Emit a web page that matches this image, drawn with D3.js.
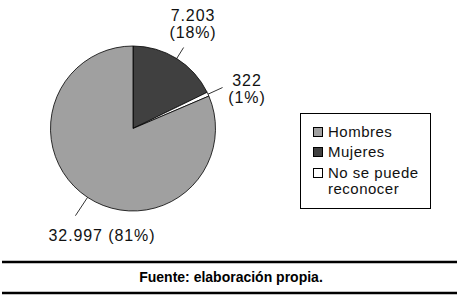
<!DOCTYPE html>
<html>
<head>
<meta charset="utf-8">
<script src="https://cdn.jsdelivr.net/npm/d3@7"></script>
<style>
  body { margin: 0; background: #fff; }
  svg { display: block; font-family: 'Liberation Sans', Arial, sans-serif; }
</style>
</head>
<body>
<div id="chart"></div>
<script>
// Data
const categories = ['Mujeres', 'No se puede reconocer', 'Hombres'];
const values = [7203, 322, 32997];
const labelTexts = [['7.203', '(18%)'], ['322', '(1%)'], ['32.997 (81%)']];
const legendOrder = ['Hombres', 'Mujeres', 'No se puede reconocer'];
const legendLines = [['Hombres'], ['Mujeres'], ['No se puede', 'reconocer']];
const source = 'Fuente: elaboración propia.';

const width = 461, height = 299;
const cx = 133, cy = 128.5, radius = 82.5;

const color = d3.scaleOrdinal()
    .domain(categories)
    .range(['#404040', '#ffffff', '#a0a0a0']);

const svg = d3.select('#chart')
    .append('svg')
        .attr('width', width)
        .attr('height', height);

const pie = d3.pie().sort(null).value(d => d.value);
const data = categories.map((c, i) => ({name: c, value: values[i], label: labelTexts[i]}));
const arcs = pie(data);
const arc = d3.arc().innerRadius(0).outerRadius(radius);

const g = svg.append('g').attr('transform', `translate(${cx},${cy})`);

g.selectAll('path')
    .data(arcs)
    .enter()
    .append('path')
        .attr('d', arc)
        .attr('fill', d => color(d.data.name))
        .attr('stroke', '#000')
        .attr('stroke-width', 0.8);

// Leader lines and labels (offset per slice)
const labelConf = [
    {r1: radius, r2: radius + 13, tx: 193, ty: 21},
    {r1: radius, r2: radius + 16, tx: 247, ty: 86},
    {r1: radius, r2: radius + 22, tx: 102, ty: 241}
];
arcs.forEach((a, i) => {
    const mid = (a.startAngle + a.endAngle) / 2;
    const conf = labelConf[i];
    const p1 = [Math.sin(mid) * conf.r1, -Math.cos(mid) * conf.r1];
    const p2 = [Math.sin(mid) * conf.r2, -Math.cos(mid) * conf.r2];
    g.append('line')
        .attr('x1', p1[0]).attr('y1', p1[1])
        .attr('x2', p2[0]).attr('y2', p2[1])
        .attr('stroke', '#000')
        .attr('stroke-width', 0.8);
    const t = svg.append('text')
        .attr('text-anchor', 'middle')
        .style('font-size', '16px')
        .style('letter-spacing', '0.9px')
        .attr('fill', '#111');
    a.data.label.forEach((line, j) => {
        t.append('tspan')
            .attr('x', conf.tx)
            .attr('y', conf.ty + j * 17)
            .text(line);
    });
});

// Legend
const legend = svg.append('g');
legend.append('rect')
    .attr('x', 300.5).attr('y', 113.5)
    .attr('width', 130).attr('height', 95)
    .attr('fill', '#fff')
    .attr('stroke', '#000')
    .attr('stroke-width', 1);
const rowY = [137, 157, 178];
legendOrder.forEach((name, i) => {
    legend.append('rect')
        .attr('x', 313.5).attr('y', rowY[i] - 9.5)
        .attr('width', 9).attr('height', 9)
        .attr('fill', color(name))
        .attr('stroke', '#000')
        .attr('stroke-width', 1);
    const t = legend.append('text')
        .style('font-size', '15px')
        .style('letter-spacing', '0.5px')
        .attr('fill', '#111');
    legendLines[i].forEach((line, j) => {
        t.append('tspan')
            .attr('x', 328)
            .attr('y', rowY[i] + j * 16)
            .text(line);
    });
});

// Source rules and text
svg.append('line')
    .attr('x1', 2).attr('x2', 457)
    .attr('y1', 262).attr('y2', 262)
    .attr('stroke', '#000').attr('stroke-width', 2.5);
svg.append('line')
    .attr('x1', 2).attr('x2', 457)
    .attr('y1', 293).attr('y2', 293)
    .attr('stroke', '#000').attr('stroke-width', 2.5);
svg.append('text')
    .attr('x', 231).attr('y', 282)
    .attr('text-anchor', 'middle')
    .style('font-size', '14px')
    .style('font-weight', 'bold')
    .text(source);
</script>
</body>
</html>
